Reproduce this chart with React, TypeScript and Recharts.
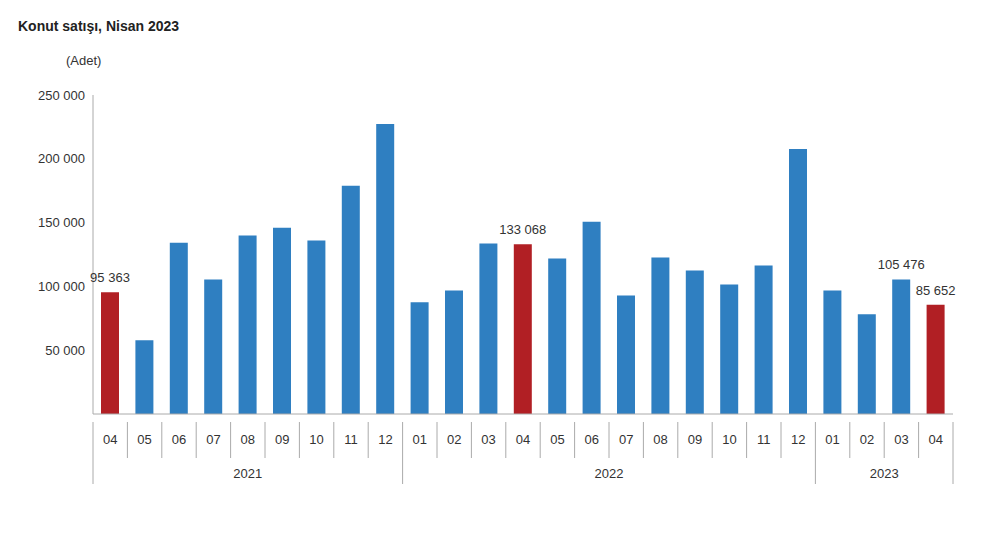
import { BarChart, Bar, XAxis, YAxis, Cell, LabelList } from 'recharts';

const months = ['04','05','06','07','08','09','10','11','12','01','02','03','04','05','06','07','08','09','10','11','12','01','02','03','04'];
const sales = [95363, 57800, 134300, 105400, 139800, 146000, 135900, 178800, 227300, 87500, 96800, 133600, 133068, 121800, 150700, 92900, 122600, 112500, 101500, 116400, 207700, 96800, 78100, 105476, 85652];
const highlighted = [0, 12, 24];
const labelled = [0, 12, 23, 24];
const yTicks = [0, 50000, 100000, 150000, 200000, 250000];
const years = [{ label: '2021', from: 0, to: 8 }, { label: '2022', from: 9, to: 20 }, { label: '2023', from: 21, to: 24 }];

const data = months.map((m, i) => ({ m: `${m}-${i}`, month: m, v: sales[i], i }));
const fmt = (v: number) => v.toLocaleString('en-US').replace(/,/g, ' ');
const BAND = 860 / 25;
const FONT = 'Arial, "Liberation Sans", sans-serif';

function MonthTick(props: any) {
  const { x, y, index } = props;
  const left = x - BAND / 2;
  const yearStart = years.find((yr) => yr.from === index);
  const yearEnd = years.find((yr) => yr.to === index);
  return (
    <g>
      <line x1={left} y1={y} x2={left} y2={yearStart ? y + 62 : y + 36} stroke="#aaa" />
      {index === 24 && <line x1={left + BAND} y1={y} x2={left + BAND} y2={y + 62} stroke="#aaa" />}
      <text x={x} y={y + 22} textAnchor="middle" fontSize={13} fill="#333" fontFamily={FONT}>{months[index]}</text>
      {yearEnd && (
        <text x={left + BAND - ((yearEnd.to - yearEnd.from + 1) * BAND) / 2} y={y + 56} textAnchor="middle" fontSize={13} fill="#333" fontFamily={FONT}>
          {yearEnd.label}
        </text>
      )}
    </g>
  );
}

function ValueLabel(props: any) {
  const { x, y, width, index } = props;
  if (!labelled.includes(index)) return null;
  return (
    <text x={x + width / 2} y={y - 10} textAnchor="middle" fontSize={13} fill="#333" fontFamily={FONT}>
      {fmt(sales[index])}
    </text>
  );
}

export default function App() {
  return (
    <div style={{ position: 'absolute', left: 0, top: 0, width: 1000, height: 539, background: '#fff', fontFamily: FONT }}>
      <div style={{ position: 'absolute', left: 18, top: 18, fontSize: 14, fontWeight: 'bold', color: '#222' }}>Konut satışı, Nisan 2023</div>
      <div style={{ position: 'absolute', left: 66, top: 53, fontSize: 13, color: '#333' }}>(Adet)</div>
      <BarChart width={1000} height={539} data={data} margin={{ top: 95, right: 47, left: 33, bottom: 0 }} barSize={18}>
        <YAxis
          width={60}
          domain={[0, 250000]}
          ticks={yTicks}
          tickFormatter={(v) => (v === 0 ? '' : fmt(v))}
          tick={{ fill: '#333', fontSize: 13, fontFamily: FONT }}
          tickLine={false}
          axisLine={{ stroke: '#aaa' }}
        />
        <XAxis dataKey="m" interval={0} tick={<MonthTick />} tickLine={false} axisLine={{ stroke: '#aaa' }} height={125} />
        <Bar dataKey="v" isAnimationActive={false}>
          {data.map((d) => (
            <Cell key={d.m} fill={highlighted.includes(d.i) ? '#b11f24' : '#2f7fc1'} />
          ))}
          <LabelList dataKey="v" content={<ValueLabel />} />
        </Bar>
      </BarChart>
    </div>
  );
}
